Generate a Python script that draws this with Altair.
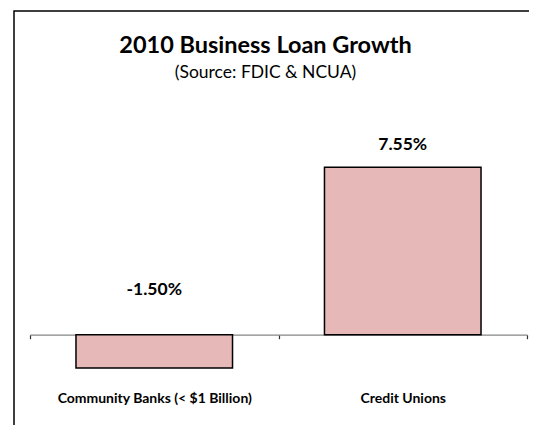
import altair as alt
import pandas as pd

categories = ["Community Banks (< $1 Billion)", "Credit Unions"]
values = [-1.50, 7.55]
labels = ["-1.50%", "7.55%"]

df = pd.DataFrame({"category": categories, "value": values, "label": labels})

FONT = "Lato"
W = 497
H = 221.7
PAD_BOTTOM = 90

x_enc = alt.X(
    "category:N",
    sort=categories,
    scale=alt.Scale(paddingInner=0, paddingOuter=0),
    axis=alt.Axis(
        title=None,
        labelAngle=0,
        labelFont=FONT,
        labelFontSize=14,
        labelFontWeight="bold",
        labelColor="black",
        labelPadding=53,
        labelLimit=0,
        domainColor="#868686",
        domainWidth=1.2,
        tickBand="extent",
        tickColor="#333333",
        tickSize=4,
        tickWidth=1.2,
        grid=False,
    ),
)
y_scale = alt.Scale(domain=[0, 10], nice=False, zero=True)

base = alt.Chart(df)

bars = base.mark_bar(
    color="#E6B8B7", stroke="black", strokeWidth=1.5, width=alt.RelativeBandSize(0.63)
).encode(
    x=x_enc,
    y=alt.Y("value:Q", scale=y_scale, axis=None),
)

pos_text = base.transform_filter("datum.value >= 0").mark_text(
    font=FONT, fontSize=17.5, fontWeight="bold", color="black", baseline="middle", dy=-22
).encode(x=alt.X("category:N", sort=categories), y=alt.Y("value:Q", scale=y_scale), text="label:N")

neg_text = base.transform_filter("datum.value < 0").transform_calculate(zero="0").mark_text(
    font=FONT, fontSize=17.5, fontWeight="bold", color="black", baseline="middle", dy=-45
).encode(x=alt.X("category:N", sort=categories), y=alt.Y("zero:Q", scale=y_scale), text="label:N")

# chart frame (only its top and left edges fall inside the picture)
frame = alt.Chart(pd.DataFrame({"k": [0]})).mark_rect(
    fill=None, stroke="black", strokeWidth=1.5
).encode(
    x=alt.value(-16), x2=alt.value(W + 40), y=alt.value(-102), y2=alt.value(H + PAD_BOTTOM + 40)
)

chart = alt.layer(bars, pos_text, neg_text, frame).properties(
    width=W,
    height=H,
    autosize=alt.AutoSizeParams(type="none"),
    padding={"left": 22, "top": 105, "right": 2, "bottom": PAD_BOTTOM},
    title=alt.TitleParams(
        text="2010 Business Loan Growth",
        subtitle="(Source: FDIC & NCUA)",
        font=FONT,
        fontSize=23.5,
        fontWeight="bold",
        color="black",
        subtitleFont=FONT,
        subtitleFontSize=17.5,
        subtitleColor="black",
        subtitlePadding=6,
        anchor="middle",
        frame="group",
        offset=30,
        dx=-13,
        dy=101,
    ),
).configure_view(stroke=None)

chart.save("out.html", embed_options={"renderer": "svg", "actions": False})
